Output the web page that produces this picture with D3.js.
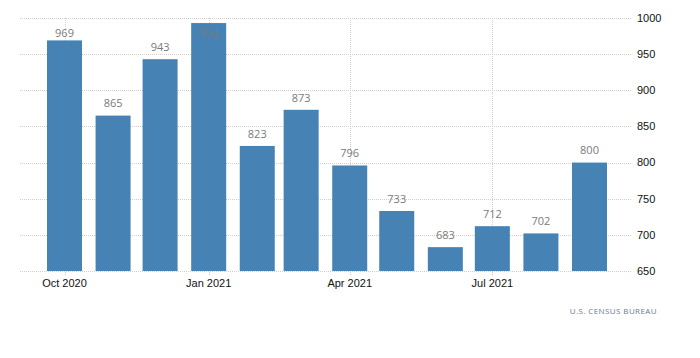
<!DOCTYPE html>
<html><head><meta charset="utf-8">
<script src="https://cdn.jsdelivr.net/npm/d3@7"></script>
<style>body{margin:0;background:#fff}svg{display:block}</style>
</head><body><svg id="c" width="700" height="358"></svg>
<script>
const months = ["2020-10","2020-11","2020-12","2021-01","2021-02","2021-03","2021-04","2021-05","2021-06","2021-07","2021-08","2021-09"];
const values = [969,865,943,993,823,873,796,733,683,712,702,800];
const yTicks = [650,700,750,800,850,900,950,1000];
const xTickDates = ["2020-10","2021-01","2021-04","2021-07"];
const source = "U.S. CENSUS BUREAU";

const parse = d3.timeParse("%Y-%m");
const fmt = d3.timeFormat("%b %Y");
const svg = d3.select("#c");
const x = d3.scaleTime().domain([parse("2020-10"), parse("2021-09")]).range([64.5, 589.5]);
const y = d3.scaleLinear().domain([650,1000]).range([271,18]);
const left = 20, right = 632, bw = 35;

// horizontal grid
svg.append("g").selectAll("line").data(yTicks).join("line")
  .attr("x1", left).attr("x2", right)
  .attr("y1", d => Math.round(y(d)) + 0.5).attr("y2", d => Math.round(y(d)) + 0.5)
  .attr("stroke", "#cfcfcf").attr("stroke-dasharray", "1,1");
// vertical grid
svg.append("g").selectAll("line").data(xTickDates).join("line")
  .attr("x1", d => Math.round(x(parse(d))) + 0.5).attr("x2", d => Math.round(x(parse(d))) + 0.5)
  .attr("y1", 18).attr("y2", 276)
  .attr("stroke", "#cfcfcf").attr("stroke-dasharray", "1,1");

// bars
svg.append("g").selectAll("rect").data(values).join("rect")
  .attr("x", (d,i) => x(parse(months[i])) - bw/2)
  .attr("width", bw)
  .attr("y", d => y(d))
  .attr("height", d => y(650) - y(d))
  .attr("fill", "#4682b4");

// value labels
svg.append("g").selectAll("text").data(values).join("text")
  .attr("x", (d,i) => x(parse(months[i])))
  .attr("y", d => Math.max(y(d) - 12, 33))
  .attr("dy", "0.35em")
  .attr("text-anchor", "middle")
  .attr("font-family", "Open Sans, sans-serif").attr("font-size", 11)
  .attr("fill", "#7a7a7a")
  .text(d => d);

// y axis labels
svg.append("g").selectAll("text").data(yTicks).join("text")
  .attr("x", 637).attr("y", d => y(d)).attr("dy", "0.35em")
  .attr("font-family", "Liberation Sans, Arial, sans-serif").attr("font-size", 11)
  .attr("fill", "#111").text(d => d);

// x axis labels
svg.append("g").selectAll("text").data(xTickDates).join("text")
  .attr("x", d => x(parse(d))).attr("y", 283).attr("dy", "0.35em")
  .attr("text-anchor", "middle")
  .attr("font-family", "Liberation Sans, Arial, sans-serif").attr("font-size", 11)
  .attr("fill", "#111").text(d => fmt(parse(d)));

// source
svg.append("text").attr("x", 657).attr("y", 311).attr("dy", "0.35em")
  .attr("text-anchor", "end")
  .attr("font-family", "Open Sans, sans-serif").attr("font-size", 8)
  .attr("letter-spacing", "0.4px")
  .attr("fill", "#6b7b95").text(source);
</script></body></html>
